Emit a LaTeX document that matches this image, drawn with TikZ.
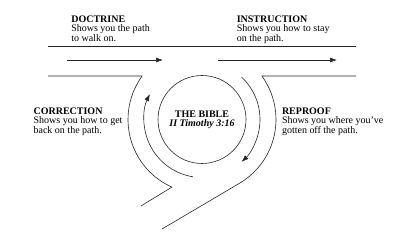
\documentclass[tikz,border=0pt]{standalone}
\usepackage{fontspec}
\setmainfont{Liberation Serif}
\usetikzlibrary{arrows.meta}

\begin{document}
\begin{tikzpicture}[x=1pt, y=1pt, line width=0.6pt,
  road/.style={draw=black!85},
  flow/.style={road, -{Latex[length=7pt,width=5pt]}},
  note/.style={anchor=north west, inner sep=0pt, align=left,
    font=\fontsize{10}{8.7}\selectfont}]
  \useasboundingbox (0,0) rectangle (400,245);
  \coordinate (c) at (202,125.5);
  % the road
  \draw[road] (48,199) -- (356,199);
  \draw[road] (48,169) -- ([shift=(144:74)]c) arc[start angle=144, end angle=246, radius=74] -- (141,39);
  \draw[road] (356,169) -- ([shift=(36:74)]c) arc[start angle=36, end angle=-60, radius=74] -- (162,16);
  % direction of travel
  \coordinate (d0) at (67,185);
  \coordinate (d1) at (163,185);
  \coordinate (i0) at (218,185);
  \coordinate (i1) at (337,185);
  \draw[flow] (d0) -- (d1);
  \draw[flow] (i0) -- (i1);
  \draw[flow] ([shift=(261:58)]c) arc[start angle=261, end angle=154, radius=58];
  \draw[flow] ([shift=(47:58)]c) arc[start angle=47, end angle=-47, radius=58];
  % the centre
  \node[road, circle, minimum size=88pt, inner sep=0pt, align=center,
    font=\fontsize{10}{8.7}\selectfont] (bible) at (c)
    {\textbf{THE BIBLE}\\\textbf{\itshape II Timothy 3:16}};
  % the four uses
  \node[note] (doctrine) at (71,229) {\textbf{DOCTRINE}\\Shows you the path\\to walk on.};
  \node[note] (instruction) at (236.5,229) {\textbf{INSTRUCTION}\\Shows you how to stay\\on the path.};
  \node[note] (correction) at (33.3,137.3) {\textbf{CORRECTION}\\Shows you how to get\\back on the path.};
  \node[note] (reproof) at (281.7,137.3) {\textbf{REPROOF}\\Shows you where you've\\gotten off the path.};
\end{tikzpicture}
\end{document}
